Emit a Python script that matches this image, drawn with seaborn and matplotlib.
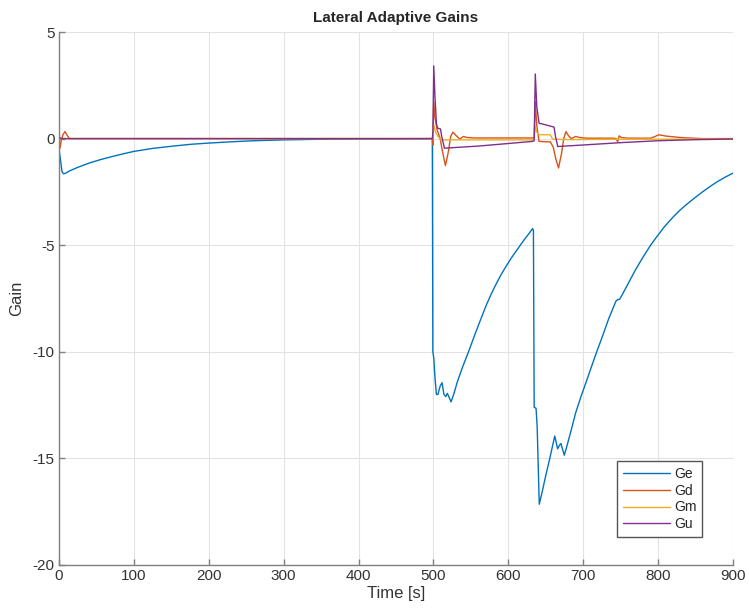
import numpy as np
import pandas as pd
import seaborn as sns
import matplotlib
matplotlib.use("Agg")
import matplotlib.pyplot as plt

# values (time [s], gain)
ge_t = [0, 2, 4, 6, 9, 15, 25, 40, 55, 70, 85, 100, 125, 150, 175, 200, 230, 260, 300,
        350, 400, 450, 498.5,
        499.2, 500.5, 502, 504, 506, 509, 511.5, 514, 516.5, 518.5, 520.5, 523.5,
        527, 532, 538, 548, 555, 562, 570, 577, 584, 590, 597, 604, 610, 615, 621, 627,
        632.4, 633.5, 634.5, 637, 638.5, 641.3, 645, 650, 655, 662, 665.8, 668, 670.2,
        674.7, 678, 683, 690, 697, 703.6, 710, 717, 725.8, 734, 743.6, 746, 748.5, 752,
        760, 770, 780, 790, 797, 808, 820, 830, 840, 850, 860, 870, 880, 890, 900]
ge_v = [-0.5, -1.0, -1.55, -1.65, -1.62, -1.5, -1.35, -1.15, -0.99, -0.85, -0.72, -0.6,
        -0.46, -0.36, -0.27, -0.21, -0.15, -0.1, -0.06, -0.03, -0.015, -0.01, 0.0,
        -10.0, -10.3, -11.2, -12.0, -12.0, -11.6, -11.45, -12.0, -12.1, -11.95, -12.1, -12.35,
        -12.0, -11.4, -10.8, -9.89, -9.22, -8.58, -7.86, -7.3, -6.8, -6.4, -5.99, -5.6, -5.3,
        -5.05, -4.75, -4.48, -4.22, -4.3, -12.6, -12.65, -13.5, -17.15, -16.6, -15.8, -15.05,
        -13.95, -14.55, -14.4, -14.3, -14.85, -14.45, -13.8, -12.85, -12.1, -11.45, -10.8,
        -10.1, -9.26, -8.45, -7.63, -7.55, -7.54, -7.33, -6.8, -6.14, -5.55, -5.0, -4.66,
        -4.15, -3.68, -3.33, -3.03, -2.75, -2.48, -2.23, -2.0, -1.8, -1.62]

gd_t = [0, 1.3, 3, 5.5, 8, 11, 14, 100, 400, 498.5, 499.2, 500.4, 502, 505, 509, 512, 516,
        520, 523, 526, 530, 535, 540, 545, 555, 600, 633, 634.5, 636, 638, 641, 650, 656,
        660, 663, 667, 671, 674, 677, 680, 684, 690, 695, 705, 740, 744, 746, 748, 751, 760,
        790, 796, 801, 810, 830, 860, 900]
gd_v = [0, -0.45, -0.1, 0.2, 0.33, 0.15, 0, 0, 0, 0, -0.3, 1.74, 1.0, 0.4, 0.0, -0.6, -1.27,
        -0.6, 0.1, 0.3, 0.15, -0.02, 0.1, 0.05, 0.03, 0.03, 0.03, 0.0, 1.74, 0.6, -0.13, -0.15,
        -0.15, -0.4, -0.9, -1.38, -0.7, 0.0, 0.33, 0.15, 0.0, 0.1, 0.05, 0.02, 0.02, 0.0, -0.15,
        0.13, 0.05, 0.02, 0.02, 0.1, 0.18, 0.12, 0.05, 0.0, 0.0]

gm_t = [0, 498.5, 499.5, 500.5, 503, 506, 510, 560, 634.5, 636, 638, 641, 656, 659, 680, 750, 900]
gm_v = [0, 0, 0.1, 0.65, 0.3, 0.1, -0.06, -0.06, -0.06, 0.6, 0.3, 0.18, 0.18, -0.02, -0.05, -0.03, -0.02]

gu_t = [0, 2, 5, 498.5, 499.3, 500.4, 502, 504, 505.5, 509.5, 511, 514.7, 560, 600, 632.4,
        634.5, 636, 638, 641, 646, 661, 663, 666, 700, 750, 800, 850, 900]
gu_v = [0.1, 0.02, 0, 0, 0.3, 3.41, 2.0, 0.7, 0.49, 0.45, 0.1, -0.45, -0.35, -0.23, -0.13,
        -0.1, 3.03, 1.5, 0.72, 0.68, 0.54, 0.1, -0.37, -0.3, -0.19, -0.1, -0.05, -0.02]

names = ["Ge", "Gd", "Gm", "Gu"]
colors = ["#0072BD", "#D95319", "#EDB120", "#7E2F8E"]

frames = []
for name, t, v in zip(names, [ge_t, gd_t, gm_t, gu_t], [ge_v, gd_v, gm_v, gu_v]):
    frames.append(pd.DataFrame({"t": t, "gain": v, "series": name}))
df = pd.concat(frames, ignore_index=True)

sns.set_theme(style="whitegrid")
plt.rcParams["font.family"] = ["Liberation Sans", "DejaVu Sans"]
plt.rcParams["axes.unicode_minus"] = False

fig = plt.figure(figsize=(7.49, 6.11), dpi=100)
ax = fig.add_axes([59 / 749, 46 / 611, 674 / 749, 533 / 611])

sns.lineplot(data=df, x="t", y="gain", hue="series", hue_order=names,
             palette=colors, estimator=None, sort=False, linewidth=1.0, ax=ax)

ax.set_xlim(0, 900)
ax.set_ylim(-20, 5)
ax.set_xticks(np.arange(0, 901, 100))
ax.set_yticks(np.arange(-20, 6, 5))
ax.grid(True, color="#e3e3e3", linewidth=0.8)
ax.set_facecolor("white")
for s in ["top", "right"]:
    ax.spines[s].set_visible(False)
for s in ["left", "bottom"]:
    ax.spines[s].set_visible(True)
    ax.spines[s].set_color("#808080")
    ax.spines[s].set_linewidth(1.0)
ax.tick_params(axis="both", direction="in", length=4, width=1, color="#808080",
               labelsize=11, labelcolor="#333333", pad=3, left=True, bottom=True)

ax.set_title("Lateral Adaptive Gains", fontsize=11, fontweight="bold", pad=7)
ax.set_xlabel("Time [s]", fontsize=12, color="#333333", labelpad=2)
ax.set_ylabel("Gain", fontsize=12, color="#333333", labelpad=6)

handles, labels = ax.get_legend_handles_labels()
leg = ax.legend(handles, labels, loc="lower right", bbox_to_anchor=(0.954, 0.053),
                borderaxespad=0, fontsize=10, handlelength=3.4, fancybox=False,
                framealpha=1, edgecolor="#555555", borderpad=0.4, labelspacing=0.2,
                handletextpad=0.3)
leg.get_frame().set_linewidth(1.0)

fig.savefig("out.png", dpi=100)
